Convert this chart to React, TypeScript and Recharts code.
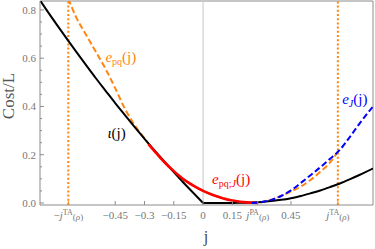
import React from 'react';
import { LineChart, Line, XAxis, YAxis, ReferenceLine, ReferenceDot, Label } from 'recharts';

// Special points on the j axis
const jTA = 0.69;
const jPA = 0.28;

// ι(j), left branch
const iotaLeftJ = [-0.84, -0.8, -0.75, -0.7, -0.65, -0.6, -0.55, -0.5, -0.45, -0.4, -0.35, -0.3, -0.25, -0.2, -0.15, -0.1, -0.05, 0];
const iotaLeftV = [0.846, 0.798, 0.74, 0.683, 0.627, 0.572, 0.518, 0.466, 0.414, 0.364, 0.314, 0.266, 0.219, 0.173, 0.128, 0.084, 0.042, 0];
// ι(j), right branch
const iotaRightJ = [0, 0.05, 0.1, 0.15, 0.2, 0.25, 0.3, 0.35, 0.4, 0.45, 0.5, 0.55, 0.6, 0.65, 0.7, 0.75, 0.8, 0.87];
const iotaRightV = [0, 0, 0, 0, 0.001, 0.002, 0.004, 0.008, 0.013, 0.02, 0.029, 0.04, 0.052, 0.066, 0.081, 0.098, 0.116, 0.143];

// e_pq(j)
const epqJ = [-0.69, -0.65, -0.6, -0.55, -0.5, -0.45, -0.4, -0.35, -0.3, -0.25, -0.2, -0.15, -0.1, -0.05, 0, 0.05, 0.1, 0.15, 0.2, 0.25, 0.3, 0.35, 0.4, 0.45, 0.5, 0.55, 0.6, 0.65, 0.69];
const epqV = [0.846, 0.77, 0.698, 0.628, 0.557, 0.476, 0.39, 0.322, 0.268, 0.216, 0.171, 0.133, 0.099, 0.073, 0.051, 0.034, 0.021, 0.011, 0.005, 0.002, 0.003, 0.014, 0.03, 0.048, 0.068, 0.095, 0.129, 0.168, 0.212];

// e_pq;J(j)
const epqJJ = [-0.28, -0.25, -0.2, -0.15, -0.1, -0.05, 0, 0.05, 0.1, 0.15, 0.2, 0.25, 0.28];
const epqJV = [0.244, 0.216, 0.171, 0.132, 0.098, 0.072, 0.05, 0.033, 0.02, 0.01, 0.004, 0.001, 0];

// e_J(j)
const eJJ = [0.25, 0.3, 0.35, 0.4, 0.45, 0.5, 0.55, 0.6, 0.65, 0.7, 0.75, 0.8, 0.87];
const eJV = [0, 0.004, 0.013, 0.029, 0.052, 0.083, 0.115, 0.148, 0.183, 0.22, 0.272, 0.328, 0.4];

// Axis ticks
const xTicks = [-jTA, -0.45, -0.3, -0.15, 0, 0.15, jPA, 0.45, jTA];
const yTicks = [0, 0.05, 0.1, 0.15, 0.2, 0.25, 0.3, 0.35, 0.4, 0.45, 0.5, 0.55, 0.6, 0.65, 0.7, 0.75, 0.8];
const yMajor = [0, 0.2, 0.4, 0.6, 0.8];

const X_DOMAIN: [number, number] = [-0.835, 0.87];
const Y_DOMAIN: [number, number] = [-0.0083, 0.837];

const ORANGE = '#ff8410';
const BLUE = '#0000ff';
const RED = '#ff0000';
const AXIS = '#8c8c8c';
const TICKTEXT = '#777777';
const FONT = '"Liberation Serif", "DejaVu Serif", serif';

const toPts = (js: number[], vs: number[]) => js.map((j, i) => ({ j, v: vs[i] }));

const near = (a: number, b: number) => Math.abs(a - b) < 1e-6;

const XTick = (props: any) => {
  const { x, y, payload } = props;
  const v = payload.value as number;
  const isTA = near(Math.abs(v), jTA);
  const isPA = near(v, jPA);
  const color = isTA ? ORANGE : AXIS;
  let label: React.ReactNode;
  if (isTA || isPA) {
    label = (
      <>
        {v < 0 ? <tspan>−</tspan> : null}
        <tspan fontStyle="italic">j</tspan>
        <tspan fontSize={8} dy={-4}>{isTA ? 'TA' : 'PA'}</tspan>
        <tspan fontSize={9} dy={5}>(</tspan>
        <tspan fontSize={9} fontStyle="italic">ρ</tspan>
        <tspan fontSize={9}>)</tspan>
      </>
    );
  } else {
    label = v === 0 ? '0' : (v < 0 ? '−' : '') + String(Math.abs(v));
  }
  return (
    <g>
      <line x1={x} x2={x} y1={y} y2={y - 4} stroke={color} strokeWidth={1} />
      <text x={x} y={y + 14} textAnchor="middle" fontFamily={FONT} fontSize={11} fill={TICKTEXT}>
        {label}
      </text>
    </g>
  );
};

const YTick = (props: any) => {
  const { x, y, payload } = props;
  const v = payload.value as number;
  const major = yMajor.some((m) => near(m, v));
  return (
    <g>
      <line x1={x} x2={x + (major ? 4 : 2)} y1={y} y2={y} stroke={AXIS} strokeWidth={1} />
      {major ? (
        <text x={x - 4} y={y + 4} textAnchor="end" fontFamily={FONT} fontSize={11} fill={TICKTEXT}>
          {v.toFixed(1)}
        </text>
      ) : null}
    </g>
  );
};

const textShape = (content: React.ReactNode, color: string) => (p: any) => (
  <text x={p.cx} y={p.cy} fontFamily={FONT} fontSize={15} fill={color}>
    {content}
  </text>
);

export default function App() {
  return (
    <div style={{ position: 'absolute', left: 0, top: 0, width: 375, height: 249, background: '#fff' }}>
      <LineChart width={375} height={249} margin={{ top: 1, right: 2, bottom: 0, left: 0 }}>
        <XAxis
          type="number"
          dataKey="j"
          domain={X_DOMAIN}
          allowDataOverflow
          ticks={xTicks}
          tick={<XTick />}
          tickSize={0}
          tickMargin={0}
          tickLine={false}
          interval={0}
          height={44}
          axisLine={{ stroke: AXIS }}
        >
          <Label
            content={(p: any) => (
              <text x={p.viewBox.x + 166} y={p.viewBox.y + 37} textAnchor="middle" fontFamily={FONT} fontSize={16} fill="#444">
                j
              </text>
            )}
          />
        </XAxis>
        <YAxis
          type="number"
          domain={Y_DOMAIN}
          allowDataOverflow
          ticks={yTicks}
          tick={<YTick />}
          tickSize={0}
          tickMargin={0}
          tickLine={false}
          interval={0}
          width={40}
          axisLine={{ stroke: AXIS }}
        >
          <Label
            content={() => (
              <text x={14} y={96} transform="rotate(-90, 14, 96)" textAnchor="middle" fontFamily={FONT} fontSize={17} fill="#555">
                Cost/L
              </text>
            )}
          />
        </YAxis>

        <ReferenceLine x={X_DOMAIN[1]} stroke={AXIS} ifOverflow="visible" />
        <ReferenceLine y={Y_DOMAIN[1]} stroke={AXIS} ifOverflow="visible" />
        <ReferenceLine x={0} stroke="#d0d0d0" strokeWidth={1.2} />
        <ReferenceLine x={-jTA} stroke={ORANGE} strokeWidth={2} strokeDasharray="2 2.2" />
        <ReferenceLine x={jTA} stroke={ORANGE} strokeWidth={2} strokeDasharray="2 2.2" />

        <Line data={toPts(epqJ, epqV)} dataKey="v" type="monotone" stroke={ORANGE} strokeWidth={2} strokeDasharray="6 3" dot={false} isAnimationActive={false} />
        <Line data={toPts(iotaLeftJ, iotaLeftV)} dataKey="v" type="monotone" stroke="#000" strokeWidth={2} dot={false} isAnimationActive={false} />
        <Line data={toPts(iotaRightJ, iotaRightV)} dataKey="v" type="monotone" stroke="#000" strokeWidth={2} dot={false} isAnimationActive={false} />
        <Line data={toPts(epqJJ, epqJV)} dataKey="v" type="monotone" stroke={RED} strokeWidth={2.6} dot={false} isAnimationActive={false} />
        <Line data={toPts(eJJ, eJV)} dataKey="v" type="monotone" stroke={BLUE} strokeWidth={2} strokeDasharray="6 3" dot={false} isAnimationActive={false} />

        <ReferenceDot
          x={-0.5}
          y={0.585}
          r={0}
          shape={textShape(
            <>
              <tspan fontStyle="italic">e</tspan>
              <tspan fontSize={10} dy={3}>pq</tspan>
              <tspan dy={-3}>(j)</tspan>
            </>,
            ORANGE
          )}
        />
        <ReferenceDot
          x={-0.49}
          y={0.27}
          r={0}
          shape={textShape(
            <>
              <tspan fontStyle="italic">ι</tspan>
              <tspan>(j)</tspan>
            </>,
            '#000'
          )}
        />
        <ReferenceDot
          x={0.046}
          y={0.079}
          r={0}
          shape={textShape(
            <>
              <tspan fontStyle="italic">e</tspan>
              <tspan fontSize={10} dy={3}>pq;</tspan>
              <tspan fontSize={10} fontStyle="italic">J</tspan>
              <tspan dy={-3}>(j)</tspan>
            </>,
            RED
          )}
        />
        <ReferenceDot
          x={0.712}
          y={0.41}
          r={0}
          shape={textShape(
            <>
              <tspan fontStyle="italic">e</tspan>
              <tspan fontSize={10} fontStyle="italic" dy={3}>J</tspan>
              <tspan dy={-3}>(j)</tspan>
            </>,
            BLUE
          )}
        />
      </LineChart>
    </div>
  );
}
